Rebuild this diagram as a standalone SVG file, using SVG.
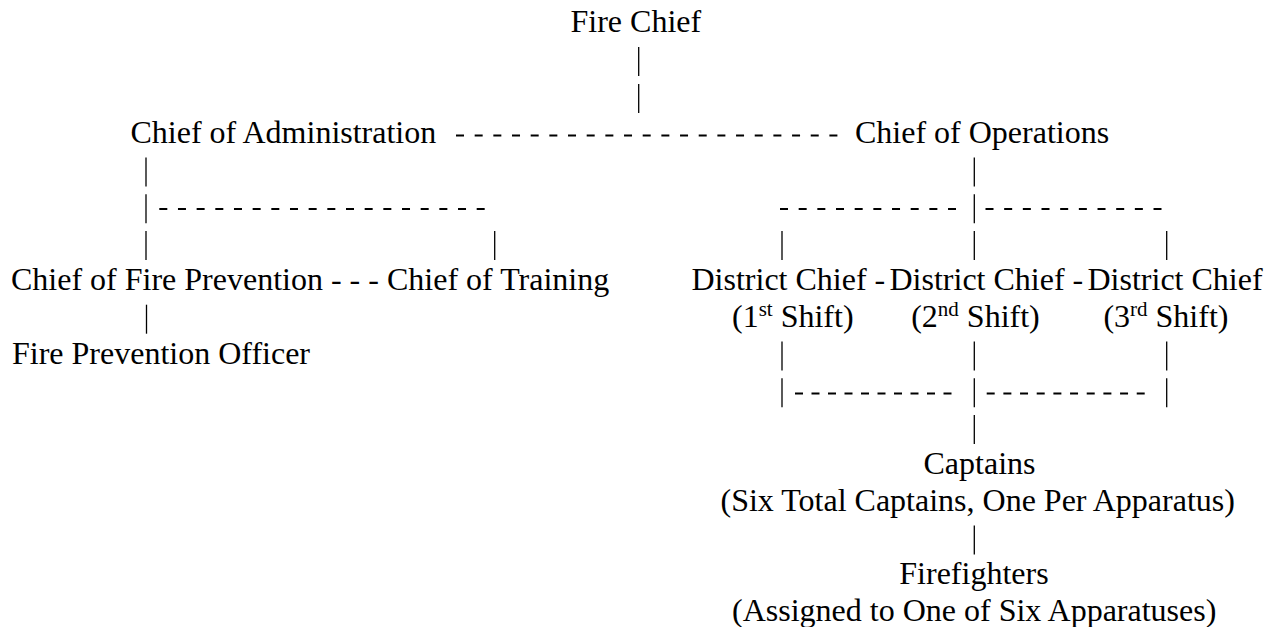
<svg xmlns="http://www.w3.org/2000/svg" width="1267" height="627" viewBox="0 0 1267 627">
<style>
  text { font-family: "Liberation Serif", "Times New Roman", serif; font-size: 32px; fill: #000; }
  .sup { font-size: 21px; }
  .bar { stroke: #000; stroke-width: 1.3; }
  .dash { stroke: #000; stroke-width: 2.2; stroke-dasharray: 8 10.67; }
  .dashL { stroke: #000; stroke-width: 2.2; stroke-dasharray: 8 8.5; }
  .dashR { stroke: #000; stroke-width: 2.2; stroke-dasharray: 8 8.67; }
</style>
<rect width="1267" height="627" fill="#fff"/>
<g id="connectors">
  <line class="bar" x1="638.7" y1="47.1" x2="638.7" y2="76.1"/>
  <line class="bar" x1="638.7" y1="83.9" x2="638.7" y2="112.9"/>
  <line class="dash" x1="456" y1="135.5" x2="837.4" y2="135.5"/>
  <line class="bar" x1="146" y1="157.5" x2="146" y2="186.5"/>
  <line class="bar" x1="146" y1="194.3" x2="146" y2="223.3"/>
  <line class="bar" x1="146" y1="231.1" x2="146" y2="260.1"/>
  <line class="dash" x1="159.3" y1="209" x2="484.7" y2="209"/>
  <line class="bar" x1="494.7" y1="231.1" x2="494.7" y2="260.1"/>
  <line class="bar" x1="146.5" y1="304.7" x2="146.5" y2="333.7"/>
  <line class="bar" x1="974.3" y1="157.5" x2="974.3" y2="186.5"/>
  <line class="bar" x1="974.3" y1="194.3" x2="974.3" y2="223.3"/>
  <line class="dash" x1="780" y1="209" x2="956" y2="209"/>
  <line class="dash" x1="985.5" y1="209" x2="1161.5" y2="209"/>
  <line class="bar" x1="782" y1="231.1" x2="782" y2="260.1"/>
  <line class="bar" x1="974.3" y1="231.1" x2="974.3" y2="260.1"/>
  <line class="bar" x1="1166.7" y1="231.1" x2="1166.7" y2="260.1"/>
  <line class="bar" x1="782" y1="341.5" x2="782" y2="370.5"/>
  <line class="bar" x1="974.3" y1="341.5" x2="974.3" y2="370.5"/>
  <line class="bar" x1="1166.7" y1="341.5" x2="1166.7" y2="370.5"/>
  <line class="bar" x1="782" y1="378.3" x2="782" y2="407.3"/>
  <line class="bar" x1="974.3" y1="378.3" x2="974.3" y2="407.3"/>
  <line class="bar" x1="1166.7" y1="378.3" x2="1166.7" y2="407.3"/>
  <line class="dashL" x1="795" y1="393.5" x2="951.5" y2="393.5"/>
  <line class="dashR" x1="986.7" y1="393.5" x2="1144.7" y2="393.5"/>
  <line class="bar" x1="974.3" y1="415.1" x2="974.3" y2="444.1"/>
  <line class="bar" x1="974.3" y1="525.5" x2="974.3" y2="554.5"/>
</g>
<g id="fire-chief"><text x="570.5" y="32.3">Fire Chief</text></g>
<g id="chief-administration"><text x="130.5" y="142.7">Chief of Administration</text></g>
<g id="chief-operations"><text x="855" y="142.7">Chief of Operations</text></g>
<g id="chief-fire-prevention"><text x="11" y="289.9" xml:space="preserve">Chief of Fire Prevention - - - </text></g>
<g id="chief-training"><text x="387" y="289.9">Chief of Training</text></g>
<g id="fire-prevention-officer"><text x="12" y="363.5">Fire Prevention Officer</text></g>
<g id="district-chief-1">
  <text x="691.5" y="289.9">District Chief -</text>
  <text x="732" y="326.7">(1<tspan class="sup" dy="-11">st</tspan><tspan dy="11"> Shift)</tspan></text>
</g>
<g id="district-chief-2">
  <text x="889.5" y="289.9">District Chief -</text>
  <text x="911.2" y="326.7">(2<tspan class="sup" dy="-11">nd</tspan><tspan dy="11"> Shift)</tspan></text>
</g>
<g id="district-chief-3">
  <text x="1087.5" y="289.9">District Chief</text>
  <text x="1103.4" y="326.7">(3<tspan class="sup" dy="-11">rd</tspan><tspan dy="11"> Shift)</tspan></text>
</g>
<g id="captains">
  <text x="923.5" y="473.9">Captains</text>
  <text x="720.5" y="510.7">(Six Total Captains, One Per Apparatus)</text>
</g>
<g id="firefighters">
  <text x="899.3" y="584.3">Firefighters</text>
  <text x="732" y="621.1">(Assigned to One of Six Apparatuses)</text>
</g>
</svg>
